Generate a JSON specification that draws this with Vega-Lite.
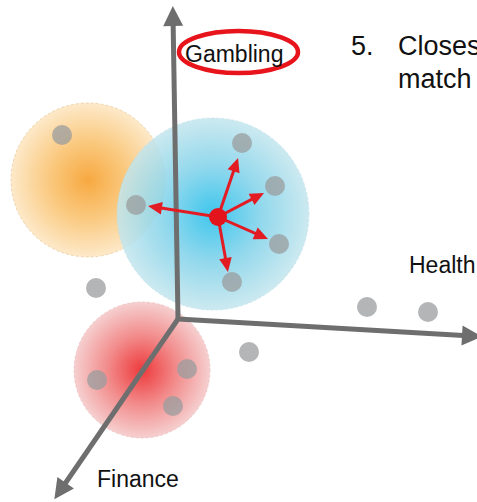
{
  "$schema": "https://vega.github.io/schema/vega-lite/v6.json",
  "width": 477,
  "height": 502,
  "padding": 0,
  "autosize": {"type": "none"},
  "background": "white",
  "config": {"view": {"stroke": null}, "axis": {"disable": true}},
  "datasets": {
    "orange": [{"x": 88, "y": 180}],
    "blue": [{"x": 213, "y": 214}],
    "red": [{"x": 142, "y": 370}],
    "axes": [
      {"name": "Gambling", "x": 178, "y": 319, "x2": 173, "y2": 16},
      {"name": "Health", "x": 178, "y": 319, "x2": 472, "y2": 336},
      {"name": "Finance", "x": 178, "y": 319, "x2": 60, "y2": 491}
    ],
    "users": [
      {"x": 62, "y": 135}, {"x": 242, "y": 143}, {"x": 275, "y": 186},
      {"x": 136, "y": 205}, {"x": 279, "y": 244}, {"x": 232, "y": 282},
      {"x": 96, "y": 288}, {"x": 367, "y": 307}, {"x": 428, "y": 312},
      {"x": 249, "y": 352}, {"x": 97, "y": 380}, {"x": 187, "y": 369},
      {"x": 173, "y": 406}
    ],
    "links": [
      {"x": 218, "y": 217, "x2": 235.8, "y2": 164.6},
      {"x": 218, "y": 217, "x2": 257.8, "y2": 196.2},
      {"x": 218, "y": 217, "x2": 154.9, "y2": 207.1},
      {"x": 218, "y": 217, "x2": 261.6, "y2": 236.2},
      {"x": 218, "y": 217, "x2": 226.7, "y2": 265.1}
    ],
    "target": [{"x": 218, "y": 217}],
    "highlight": [{"x": 238.5, "y": 52}],
    "labels": [
      {"x": 185, "y": 62, "text": "Gambling"},
      {"x": 409, "y": 273, "text": "Health"},
      {"x": 97, "y": 487, "text": "Finance"}
    ],
    "note": [
      {"x": 351, "y": 55, "text": "5."},
      {"x": 398, "y": 55, "text": "Closes"},
      {"x": 398, "y": 88, "text": "match"}
    ]
  },
  "layer": [
    {
      "data": {"name": "orange"},
      "mark": {"type": "point", "shape": "circle", "filled": true, "size": 23716, "opacity": 1,
        "fill": {"gradient": "radial", "stops": [{"offset": 0, "color": "#F7A941"}, {"offset": 0.5, "color": "#FAC97F"}, {"offset": 1, "color": "#FDE9C9"}]},
        "stroke": "#E6C08C", "strokeOpacity": 0.6, "strokeWidth": 1, "strokeDash": [3, 2]},
      "encoding": {
        "x": {"field": "x", "type": "quantitative", "scale": {"domain": [0, 477], "nice": false, "zero": false}, "axis": null},
        "y": {"field": "y", "type": "quantitative", "scale": {"domain": [0, 502], "nice": false, "zero": false, "reverse": true}, "axis": null}
      }
    },
    {
      "data": {"name": "blue"},
      "mark": {"type": "point", "shape": "circle", "filled": true, "size": 36864, "opacity": 0.85,
        "fill": {"gradient": "radial", "stops": [{"offset": 0, "color": "#1EBDEA"}, {"offset": 0.5, "color": "#7FD2EA"}, {"offset": 1, "color": "#C4E6EE"}]},
        "stroke": "#B3DCE6", "strokeOpacity": 0.6, "strokeWidth": 1, "strokeDash": [3, 2]},
      "encoding": {
        "x": {"field": "x", "type": "quantitative", "scale": {"domain": [0, 477], "nice": false, "zero": false}, "axis": null},
        "y": {"field": "y", "type": "quantitative", "scale": {"domain": [0, 502], "nice": false, "zero": false, "reverse": true}, "axis": null}
      }
    },
    {
      "data": {"name": "red"},
      "mark": {"type": "point", "shape": "circle", "filled": true, "size": 18496, "opacity": 1,
        "fill": {"gradient": "radial", "stops": [{"offset": 0, "color": "#EE3A3C"}, {"offset": 0.5, "color": "#F28A8A"}, {"offset": 1, "color": "#F6CFCF"}]},
        "stroke": "#E8B9B9", "strokeOpacity": 0.6, "strokeWidth": 1, "strokeDash": [3, 2]},
      "encoding": {
        "x": {"field": "x", "type": "quantitative", "scale": {"domain": [0, 477], "nice": false, "zero": false}, "axis": null},
        "y": {"field": "y", "type": "quantitative", "scale": {"domain": [0, 502], "nice": false, "zero": false, "reverse": true}, "axis": null}
      }
    },
    {
      "data": {"name": "axes"},
      "mark": {"type": "rule", "color": "#6E6E6E", "strokeWidth": 5, "strokeCap": "butt"},
      "encoding": {
        "x": {"field": "x", "type": "quantitative", "scale": {"domain": [0, 477], "nice": false, "zero": false}, "axis": null},
        "y": {"field": "y", "type": "quantitative", "scale": {"domain": [0, 502], "nice": false, "zero": false, "reverse": true}, "axis": null},
        "x2": {"field": "x2"},
        "y2": {"field": "y2"}
      }
    },
    {
      "data": {"name": "axes"},
      "transform": [{"calculate": "atan2(datum.x2 - datum.x, datum.y - datum.y2) * 180 / PI", "as": "ang"}],
      "mark": {"type": "point", "filled": true, "opacity": 1, "color": "#6E6E6E", "size": 400, "shape": "M0,-1 L-1,1 L1,1 Z"},
      "encoding": {
        "x": {"field": "x2", "type": "quantitative", "scale": {"domain": [0, 477], "nice": false, "zero": false}, "axis": null},
        "y": {"field": "y2", "type": "quantitative", "scale": {"domain": [0, 502], "nice": false, "zero": false, "reverse": true}, "axis": null},
        "angle": {"field": "ang", "type": "quantitative", "scale": null}
      }
    },
    {
      "data": {"name": "users"},
      "mark": {"type": "point", "shape": "circle", "filled": true, "size": 400, "color": "#9A9C9E", "opacity": 0.75},
      "encoding": {
        "x": {"field": "x", "type": "quantitative", "scale": {"domain": [0, 477], "nice": false, "zero": false}, "axis": null},
        "y": {"field": "y", "type": "quantitative", "scale": {"domain": [0, 502], "nice": false, "zero": false, "reverse": true}, "axis": null}
      }
    },
    {
      "data": {"name": "links"},
      "mark": {"type": "rule", "color": "#E31B23", "strokeWidth": 3, "strokeCap": "butt"},
      "encoding": {
        "x": {"field": "x", "type": "quantitative", "scale": {"domain": [0, 477], "nice": false, "zero": false}, "axis": null},
        "y": {"field": "y", "type": "quantitative", "scale": {"domain": [0, 502], "nice": false, "zero": false, "reverse": true}, "axis": null},
        "x2": {"field": "x2"},
        "y2": {"field": "y2"}
      }
    },
    {
      "data": {"name": "links"},
      "transform": [{"calculate": "atan2(datum.x2 - datum.x, datum.y - datum.y2) * 180 / PI", "as": "ang"}],
      "mark": {"type": "point", "filled": true, "opacity": 1, "color": "#E31B23", "size": 196, "shape": "M0,-1 L-0.9,1 L0.9,1 Z"},
      "encoding": {
        "x": {"field": "x2", "type": "quantitative", "scale": {"domain": [0, 477], "nice": false, "zero": false}, "axis": null},
        "y": {"field": "y2", "type": "quantitative", "scale": {"domain": [0, 502], "nice": false, "zero": false, "reverse": true}, "axis": null},
        "angle": {"field": "ang", "type": "quantitative", "scale": null}
      }
    },
    {
      "data": {"name": "target"},
      "mark": {"type": "point", "shape": "circle", "filled": true, "size": 324, "color": "#E3141C", "opacity": 1},
      "encoding": {
        "x": {"field": "x", "type": "quantitative", "scale": {"domain": [0, 477], "nice": false, "zero": false}, "axis": null},
        "y": {"field": "y", "type": "quantitative", "scale": {"domain": [0, 502], "nice": false, "zero": false, "reverse": true}, "axis": null}
      }
    },
    {
      "data": {"name": "highlight"},
      "mark": {"type": "point", "filled": false, "opacity": 1, "stroke": "#E8141B", "strokeWidth": 4.5, "size": 14161,
        "shape": "M1,0 C1,0.195 0.552,0.353 0,0.353 C-0.552,0.353 -1,0.195 -1,0 C-1,-0.195 -0.552,-0.353 0,-0.353 C0.552,-0.353 1,-0.195 1,0 Z"},
      "encoding": {
        "x": {"field": "x", "type": "quantitative", "scale": {"domain": [0, 477], "nice": false, "zero": false}, "axis": null},
        "y": {"field": "y", "type": "quantitative", "scale": {"domain": [0, 502], "nice": false, "zero": false, "reverse": true}, "axis": null}
      }
    },
    {
      "data": {"name": "labels"},
      "mark": {"type": "text", "font": "Liberation Sans", "fontSize": 23, "color": "#111111", "align": "left", "baseline": "alphabetic"},
      "encoding": {
        "x": {"field": "x", "type": "quantitative", "scale": {"domain": [0, 477], "nice": false, "zero": false}, "axis": null},
        "y": {"field": "y", "type": "quantitative", "scale": {"domain": [0, 502], "nice": false, "zero": false, "reverse": true}, "axis": null},
        "text": {"field": "text", "type": "nominal"}
      }
    },
    {
      "data": {"name": "note"},
      "mark": {"type": "text", "font": "Liberation Sans", "fontSize": 27, "color": "#111111", "align": "left", "baseline": "alphabetic"},
      "encoding": {
        "x": {"field": "x", "type": "quantitative", "scale": {"domain": [0, 477], "nice": false, "zero": false}, "axis": null},
        "y": {"field": "y", "type": "quantitative", "scale": {"domain": [0, 502], "nice": false, "zero": false, "reverse": true}, "axis": null},
        "text": {"field": "text", "type": "nominal"}
      }
    }
  ]
}
